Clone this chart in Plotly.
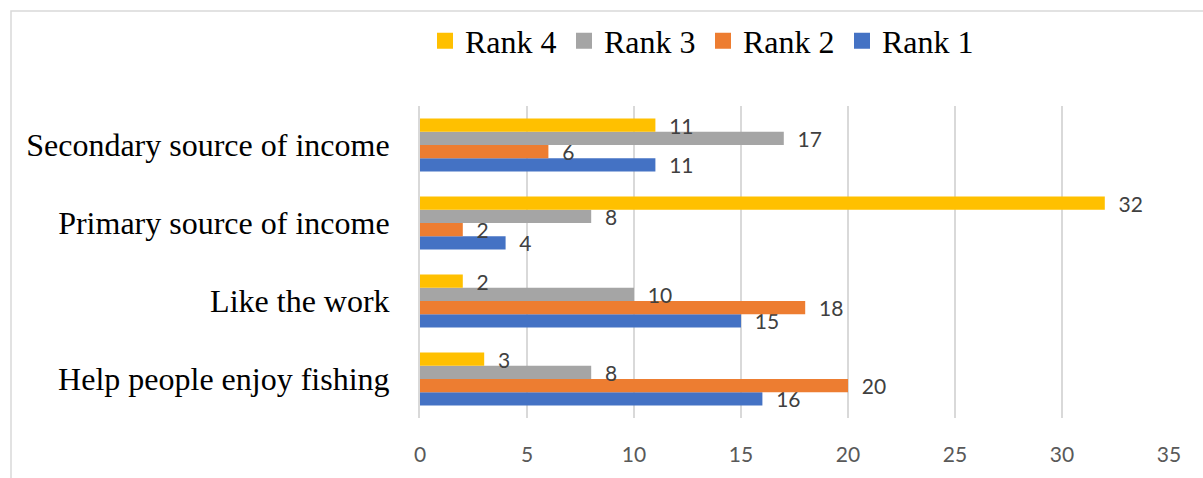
import plotly.graph_objects as go

# Survey responses: reasons for working as a fishing guide, by rank
categories = ["Help people enjoy fishing", "Like the work",
              "Primary source of income", "Secondary source of income"]
rank1 = [16, 15, 4, 11]
rank2 = [20, 18, 2, 6]
rank3 = [8, 10, 8, 17]
rank4 = [3, 2, 32, 11]

series_names = ["Rank 1", "Rank 2", "Rank 3", "Rank 4"]
series_values = [rank1, rank2, rank3, rank4]
series_colors = ["#4472C4", "#ED7D31", "#A5A5A5", "#FFC000"]
x_ticks = [0, 5, 10, 15, 20, 25, 30, 35]

W, H = 1203, 478
L, R, T, B = 420, 34, 106, 55
pw, ph = W - L - R, H - T - B

label_font = dict(family="Lato, Open Sans, sans-serif", size=21, color="#404040")
serif = "Liberation Serif, Times New Roman, serif"

fig = go.Figure()
for name, vals, col in zip(series_names, series_values, series_colors):
    fig.add_trace(go.Bar(
        x=vals, y=categories, orientation="h", name=name,
        marker=dict(color=col, line=dict(width=0)),
        text=vals, texttemplate="\u00a0\u00a0%{x}",
        textposition="outside", textfont=label_font,
        constraintext="none", cliponaxis=False,
        showlegend=False,
    ))
    # square legend swatch for the series
    fig.add_trace(go.Scatter(
        x=[None], y=[None], mode="markers", name=name,
        marker=dict(symbol="square", size=16, color=col),
        showlegend=True,
    ))

# light frame around the chart
def px_x(p):
    return (p - L) / pw

def px_y(p):
    return (H - B - p) / ph

fig.add_shape(type="rect", xref="paper", yref="paper",
              x0=px_x(11), x1=px_x(W + 20), y0=px_y(H + 20), y1=px_y(9.5),
              line=dict(color="#d9d9d9", width=1.5), fillcolor="rgba(0,0,0,0)",
              layer="below")

fig.update_layout(
    width=W, height=H,
    margin=dict(l=L, r=R, t=T, b=B, pad=0),
    paper_bgcolor="white", plot_bgcolor="white",
    barmode="group", bargap=0.32, bargroupgap=0,
    legend=dict(orientation="h", traceorder="reversed",
                x=px_x(425), xanchor="left", y=px_y(40), yanchor="middle",
                font=dict(family=serif, size=32, color="black"),
                itemwidth=30, entrywidth=94, entrywidthmode="pixels",
                bgcolor="rgba(0,0,0,0)"),
)
fig.update_xaxes(range=[0, 35], tickvals=x_ticks, showgrid=True,
                 gridcolor="#d9d9d9", gridwidth=2, zeroline=False,
                 showline=False, ticks="outside", ticklen=18,
                 tickcolor="rgba(0,0,0,0)",
                 tickfont=dict(family="Lato, Open Sans, sans-serif", size=21,
                               color="#595959"))
fig.update_yaxes(categoryorder="array", categoryarray=categories,
                 showgrid=False, showline=True, linecolor="#d9d9d9",
                 linewidth=2, ticks="outside", ticklen=22,
                 tickcolor="rgba(0,0,0,0)",
                 tickfont=dict(family=serif, size=32, color="black"))

fig.write_html("out.html")
